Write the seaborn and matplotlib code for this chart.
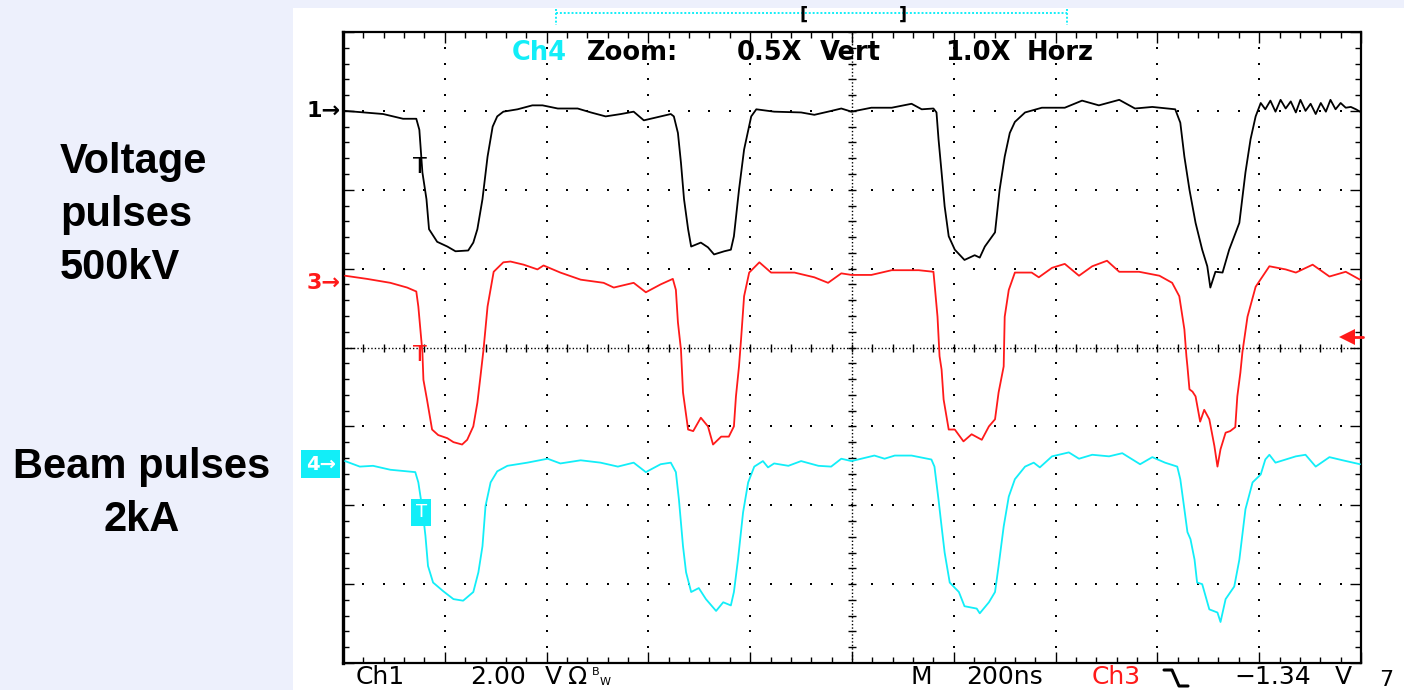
import matplotlib
matplotlib.use("Agg")
import matplotlib.pyplot as plt
import seaborn as sns
import numpy as np
from matplotlib.lines import Line2D
from matplotlib.patches import Rectangle

# ---------------- data (time in ns, amplitude in screen divisions) -------------
ch1_t = [4, 79, 118, 144, 150, 156, 164, 169, 185, 205, 221, 246, 256, 264, 274, 284, 294, 303,
         315, 343, 372, 392, 422, 461, 487, 516, 546, 571, 591, 611, 644, 650, 658, 664, 670, 678,
         684, 703, 717, 729, 749, 762, 768, 778, 788, 802, 812, 847, 900, 926, 953, 979, 999,
         1038, 1078, 1117, 1137, 1160, 1166, 1170, 1176, 1182, 1190, 1202, 1221, 1241, 1251, 1261,
         1281, 1290, 1300, 1310, 1320, 1340, 1373, 1418, 1452, 1485, 1525, 1556, 1590, 1635, 1645,
         1653, 1663, 1675, 1688, 1698, 1704, 1714, 1728, 1741, 1761, 1773, 1783, 1793, 1803, 1812,
         1822, 1832, 1842, 1852, 1862, 1872, 1881, 1891, 1901, 1911, 1921, 1931, 1940, 1950, 1960,
         1970, 1980, 1990, 1998]
ch1_v = [3.00, 2.96, 2.90, 2.90, 2.76, 2.22, 1.88, 1.50, 1.34, 1.28, 1.22, 1.23, 1.33, 1.50, 1.88,
         2.42, 2.80, 2.93, 2.99, 3.02, 3.07, 3.07, 3.03, 3.03, 2.98, 2.93, 2.96, 2.99, 2.88, 2.91,
         2.96, 2.93, 2.72, 2.34, 1.88, 1.50, 1.28, 1.33, 1.27, 1.18, 1.22, 1.24, 1.41, 2.00, 2.51,
         2.93, 3.02, 2.99, 2.98, 2.95, 2.99, 3.03, 2.99, 3.04, 3.04, 3.09, 3.02, 3.03, 2.98, 2.64,
         2.22, 1.79, 1.41, 1.24, 1.11, 1.17, 1.14, 1.28, 1.46, 2.00, 2.42, 2.72, 2.86, 2.98, 3.04,
         3.04, 3.13, 3.07, 3.14, 3.03, 3.05, 3.02, 2.85, 2.42, 2.00, 1.58, 1.24, 1.03, 0.76, 0.96,
         0.95, 1.24, 1.58, 2.22, 2.64, 2.93, 3.10, 3.02, 3.13, 2.99, 3.14, 3.03, 3.12, 2.98, 3.14,
         3.00, 3.09, 2.96, 3.10, 2.99, 3.14, 3.02, 3.10, 3.04, 3.05, 3.02, 2.99]

ch3_t = [4, 47, 93, 126, 144, 148, 152, 156, 158, 165, 175, 187, 205, 217, 234, 244, 256, 264, 270,
         276, 284, 296, 315, 329, 355, 382, 394, 427, 467, 512, 532, 571, 595, 624, 648, 654, 658,
         664, 668, 678, 688, 703, 717, 727, 743, 758, 768, 772, 778, 782, 788, 798, 818, 841, 887,
         926, 953, 979, 999, 1038, 1078, 1131, 1160, 1162, 1168, 1172, 1176, 1180, 1190, 1202, 1219,
         1235, 1255, 1269, 1281, 1288, 1298, 1300, 1308, 1320, 1353, 1367, 1393, 1418, 1446, 1472,
         1501, 1525, 1564, 1604, 1629, 1643, 1653, 1657, 1659, 1663, 1669, 1675, 1684, 1692, 1702,
         1712, 1718, 1724, 1734, 1743, 1753, 1757, 1763, 1767, 1777, 1793, 1820, 1852, 1872, 1905,
         1938, 1970, 1998]
ch3_v = [0.91, 0.87, 0.82, 0.76, 0.71, 0.52, 0.23, -0.06, -0.41, -0.66, -1.04, -1.11, -1.15, -1.20,
         -1.23, -1.17, -1.00, -0.70, -0.37, -0.03, 0.52, 0.96, 1.08, 1.09, 1.05, 0.99, 1.04, 0.95,
         0.86, 0.82, 0.76, 0.82, 0.70, 0.80, 0.87, 0.73, 0.32, -0.03, -0.57, -1.04, -1.06, -0.89,
         -1.00, -1.23, -1.13, -1.13, -1.00, -0.62, -0.24, 0.10, 0.65, 0.95, 1.08, 0.95, 0.95, 0.89,
         0.82, 0.94, 0.92, 0.92, 0.98, 0.98, 0.96, 0.82, 0.39, -0.11, -0.28, -0.66, -1.04, -1.04,
         -1.19, -1.10, -1.17, -1.00, -0.91, -0.57, -0.24, 0.39, 0.73, 0.95, 0.95, 0.89, 1.01, 1.06,
         0.91, 1.03, 1.10, 0.96, 0.96, 0.91, 0.82, 0.65, 0.23, -0.11, -0.24, -0.53, -0.56, -0.62,
         -0.94, -0.79, -0.91, -1.25, -1.51, -1.29, -1.08, -1.06, -1.01, -0.62, -0.32, -0.06, 0.39,
         0.77, 1.03, 0.99, 0.95, 1.05, 0.90, 0.96, 0.86]

ch4_t = [4, 33, 59, 93, 142, 148, 156, 162, 167, 177, 197, 217, 236, 256, 266, 274, 280, 290, 303,
         323, 362, 402, 427, 467, 506, 540, 571, 595, 624, 644, 654, 660, 668, 674, 684, 699, 713,
         733, 747, 762, 768, 776, 786, 796, 808, 825, 835, 847, 875, 900, 934, 959, 979, 999, 1044,
         1064, 1084, 1117, 1156, 1162, 1170, 1176, 1182, 1192, 1210, 1221, 1245, 1251, 1269, 1281,
         1288, 1298, 1308, 1320, 1340, 1357, 1369, 1393, 1426, 1446, 1472, 1505, 1531, 1566, 1590,
         1615, 1639, 1645, 1653, 1659, 1665, 1673, 1678, 1688, 1702, 1718, 1724, 1734, 1751, 1761,
         1773, 1787, 1803, 1812, 1820, 1832, 1852, 1872, 1891, 1911, 1938, 1964, 1998]
ch4_v = [-1.44, -1.51, -1.50, -1.55, -1.58, -1.71, -2.05, -2.39, -2.77, -2.98, -3.09, -3.19, -3.21,
         -3.10, -2.85, -2.52, -2.01, -1.71, -1.57, -1.50, -1.46, -1.41, -1.47, -1.43, -1.46, -1.51,
         -1.46, -1.58, -1.48, -1.46, -1.58, -1.93, -2.52, -2.85, -3.10, -3.05, -3.19, -3.34, -3.23,
         -3.27, -3.10, -2.69, -2.09, -1.71, -1.51, -1.44, -1.52, -1.47, -1.50, -1.44, -1.50, -1.51,
         -1.41, -1.44, -1.37, -1.41, -1.37, -1.37, -1.42, -1.51, -1.93, -2.27, -2.60, -2.98, -3.10,
         -3.28, -3.31, -3.37, -3.23, -3.10, -2.77, -2.27, -1.89, -1.67, -1.51, -1.46, -1.52, -1.38,
         -1.33, -1.41, -1.36, -1.38, -1.34, -1.48, -1.39, -1.46, -1.51, -1.67, -2.05, -2.34, -2.43,
         -2.69, -2.98, -3.00, -3.32, -3.36, -3.48, -3.19, -3.03, -2.69, -2.05, -1.71, -1.61, -1.42,
         -1.36, -1.46, -1.42, -1.38, -1.36, -1.51, -1.39, -1.43, -1.48]

ch_markers = ["1\u2192", "3\u2192", "4\u2192"]
ch_levels = [3.00, 0.82, -1.48]
trig_level = 0.13
top_words = ["Ch4", "Zoom:", "0.5X", "Vert", "1.0X", "Horz"]
bottom_words = ["Ch1", "2.00", "V", "\u03a9", "M", "200ns", "Ch3", "\u22121.34", "V"]

BLACK, RED, CYAN = "#000000", "#FF1A1A", "#12EEF8"

# ---------------- figure -------------
sns.set_theme(style="white")
plt.rcParams["font.family"] = ["DejaVu Sans"]
plt.rcParams["text.color"] = "black"

W, H = 1404, 690
fx = lambda px: px / W
fy = lambda py: 1 - py / H

fig = plt.figure(figsize=(W / 100, H / 100), dpi=100)
fig.patch.set_facecolor("#EDF0FC")
fig.patches.append(Rectangle((fx(293), 0), 1 - fx(293), fy(8), transform=fig.transFigure,
                             facecolor="white", edgecolor="none", zorder=-5))

ax = fig.add_axes([fx(343), fy(663), fx(1361) - fx(343), fy(32) - fy(663)])
ax.set_zorder(2)
ax.set_facecolor("white")
ax.set_xlim(0, 2000)
ax.set_ylim(-4, 4)

# graticule dots
ys_minor = np.arange(-4, 4.001, 0.2)
xs_minor = np.arange(0, 2000.1, 40)
for xv in range(200, 2000, 200):
    if xv == 1000:
        continue
    ax.plot([xv] * len(ys_minor), ys_minor, ls="none", marker="s", ms=1.6, mew=0, color="black", zorder=1)
for yv in range(-3, 4):
    if yv == 0:
        continue
    ax.plot(xs_minor, [yv] * len(xs_minor), ls="none", marker="s", ms=1.6, mew=0, color="black", zorder=1)
# centre lines with ticks
ax.axhline(0, color="black", lw=1.0, ls=(0, (1, 1.5)), zorder=1)
ax.axvline(1000, color="black", lw=1.0, ls=(0, (1, 1.5)), zorder=1)
ax.plot(xs_minor, [0] * len(xs_minor), ls="none", marker="|", ms=6, mew=1.0, color="black", zorder=1)
ax.plot([1000] * len(ys_minor), ys_minor, ls="none", marker="_", ms=6, mew=1.0, color="black", zorder=1)

ax.set_xticks(np.arange(0, 2001, 200))
ax.set_xticks(xs_minor, minor=True)
ax.set_yticks(np.arange(-4, 4.01, 1))
ax.set_yticks(ys_minor, minor=True)
ax.tick_params(which="both", direction="in", top=True, right=True, bottom=True, left=True,
               labelbottom=False, labelleft=False, color="black", width=1.0)
ax.tick_params(which="major", length=8)
ax.tick_params(which="minor", length=4)
for s in ax.spines.values():
    s.set_color("black")
    s.set_linewidth(1.6)
ax.spines["left"].set_linewidth(2.4)

# traces
sns.lineplot(x=ch1_t, y=ch1_v, color=BLACK, lw=1.3, estimator=None, sort=False, ax=ax, zorder=3)
sns.lineplot(x=ch3_t, y=ch3_v, color=RED, lw=1.3, estimator=None, sort=False, ax=ax, zorder=3)
sns.lineplot(x=ch4_t, y=ch4_v, color=CYAN, lw=1.3, estimator=None, sort=False, ax=ax, zorder=3)
ax.set_xlabel("")
ax.set_ylabel("")

# trigger markers on traces
ax.text(151, 2.42, "T", color=BLACK, fontsize=16, ha="center", va="top", zorder=4)
ax.text(151, 0.03, "T", color=RED, fontsize=16, ha="center", va="top", zorder=4)
ax.text(154, -2.09, "T", color="white", fontsize=13, ha="center", va="center", zorder=4,
        bbox=dict(boxstyle="square,pad=0.25", fc=CYAN, ec="none"))

# trigger level arrow on the right
ax.plot([1975, 2003], [trig_level, trig_level], color=RED, lw=2, clip_on=False, zorder=5)
ax.plot([1972], [trig_level], marker="<", ms=11, color=RED, mew=0, clip_on=False, zorder=5)

# channel markers on the left
yt = ax.get_yaxis_transform()
ax.text(-0.002, ch_levels[0], ch_markers[0], transform=yt, ha="right", va="center",
        fontsize=16, fontweight="bold", color=BLACK, clip_on=False)
ax.text(-0.002, ch_levels[1], ch_markers[1], transform=yt, ha="right", va="center",
        fontsize=16, fontweight="bold", color=RED, clip_on=False)
ax.text(-0.022, ch_levels[2], ch_markers[2], transform=yt, ha="center", va="center",
        fontsize=14, fontweight="bold", color="white", clip_on=False,
        bbox=dict(boxstyle="square,pad=0.22", fc=CYAN, ec="none"))

# top status row
top_x = [539, 633, 770, 850, 978, 1060]
top_c = [CYAN, BLACK, BLACK, BLACK, BLACK, BLACK]
for w, x, c in zip(top_words, top_x, top_c):
    fig.text(fx(x), fy(53), w, color=c, fontsize=18.5, fontweight="bold", ha="center",
             va="center", zorder=6)

# bottom status row
bot_x = [380, 498, 553, 578, 921, 1005, 1116, 1273, 1343]
bot_c = [BLACK, BLACK, BLACK, BLACK, BLACK, BLACK, RED, BLACK, BLACK]
for w, x, c in zip(bottom_words, bot_x, bot_c):
    fig.text(fx(x), fy(677), w, color=c, fontsize=18, ha="center", va="center", zorder=6)
fig.text(fx(596), fy(672), "B", fontsize=8, ha="center", va="center", zorder=6)
fig.text(fx(605), fy(682), "W", fontsize=8, ha="center", va="center", zorder=6)
fig.text(fx(1386), fy(680), "7", fontsize=16, ha="center", va="center", zorder=6)
# falling-edge trigger slope glyph
fig.add_artist(Line2D([fx(1164), fx(1172), fx(1179), fx(1188)],
                      [fy(670), fy(670), fy(686), fy(686)], color=BLACK, lw=2.2))

# zoom window bar at top
fig.add_artist(Line2D([fx(556), fx(1067)], [fy(13), fy(13)], color=CYAN, lw=1.4, ls=(0, (1, 1))))
fig.add_artist(Line2D([fx(556), fx(556)], [fy(9), fy(25)], color=CYAN, lw=1.4, ls=(0, (1, 1))))
fig.add_artist(Line2D([fx(1067), fx(1067)], [fy(9), fy(25)], color=CYAN, lw=1.4, ls=(0, (1, 1))))
fig.text(fx(804), fy(15), "[", fontsize=13, fontweight="bold", ha="center", va="center")
fig.text(fx(903), fy(15), "]", fontsize=13, fontweight="bold", ha="center", va="center")

# left annotations
fig.text(fx(60), fy(142), "Voltage\npulses\n500kV", fontsize=30, fontweight="bold",
         family=["Liberation Sans", "DejaVu Sans"], ha="left", va="top", linespacing=1.42)
fig.text(fx(142), fy(447), "Beam pulses\n2kA", fontsize=30, fontweight="bold",
         family=["Liberation Sans", "DejaVu Sans"], ha="center", va="top", linespacing=1.42,
         multialignment="center")

fig.savefig("out.png", dpi=100, facecolor=fig.get_facecolor())
